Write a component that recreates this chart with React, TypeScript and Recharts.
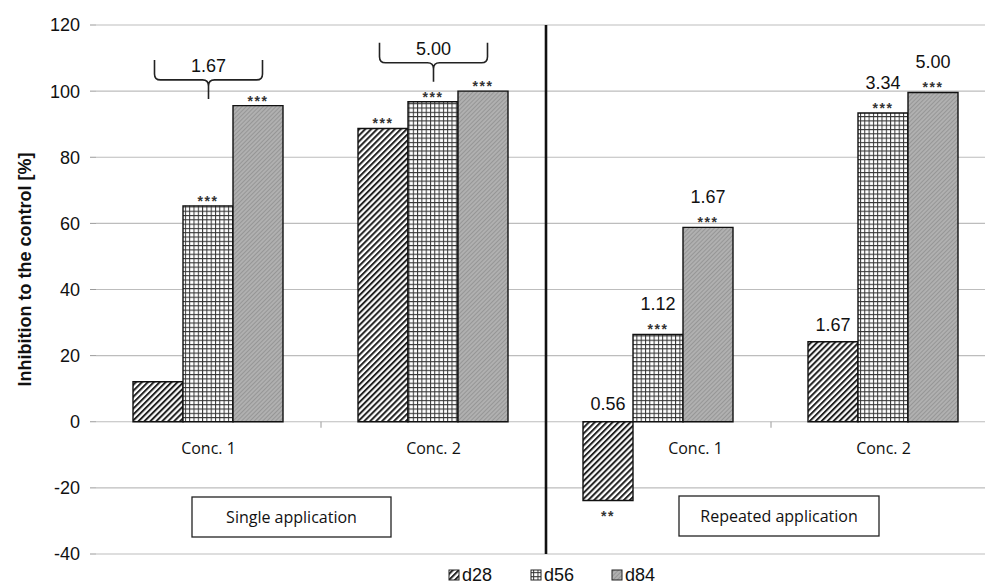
import React from "react";
import {
  ComposedChart,
  Bar,
  Line,
  XAxis,
  YAxis,
  CartesianGrid,
  LabelList,
} from "recharts";

// categories and values
const categories = ["Conc. 1", "Conc. 2", "Conc. 1 ", "Conc. 2 "];
const d28 = [12.1, 88.7, -23.8, 24.2];
const d56 = [65.3, 96.8, 26.4, 93.4];
const d84 = [95.6, 100, 58.8, 99.6];

// significance stars and ratios above bars
const stars28 = ["", "***", "**", ""];
const stars56 = ["***", "***", "***", "***"];
const stars84 = ["***", "***", "***", "***"];
const ratio28 = ["", "", "0.56", "1.67"];
const ratio56 = ["", "", "1.12", "3.34"];
const ratio84 = ["", "", "1.67", "5.00"];

// braces over the single application groups
const braceLevel = [103.4, 108.6, null, null];
const braceText = ["1.67", "5.00", "", ""];

const yTicks = [-40, -20, 0, 20, 40, 60, 80, 100, 120];

const data = categories.map((name, i) => ({
  name,
  d28: d28[i],
  d56: d56[i],
  d84: d84[i],
  base: 0,
  brace: braceLevel[i],
}));

const W = 1000;
const H = 584;
const M = { top: 25, right: 4, bottom: 30, left: 0 };
const Y_W = 96;
const PLOT_L = M.left + Y_W;
const PLOT_R = W - M.right;
const PLOT_T = M.top;
const PLOT_B = H - M.bottom;
const CAT_W = (PLOT_R - PLOT_L) / categories.length;
const ZERO_Y = PLOT_T + ((120 - 0) / 160) * (PLOT_B - PLOT_T);

const ARIAL = "'Liberation Sans', Arial, sans-serif";
const CALIBRI = "'Open Sans', 'Noto Sans', sans-serif";

// the repeated Conc. 1 label is nudged right of the negative bar
const catLabelShift = [0, 0, 37, 0];

const makeBarLabel = (stars: string[], ratios: string[]) => (props: any) => {
  const { x, y, width, height, index, value } = props;
  if (x == null || y == null) return null;
  const top = Math.min(y, y + height);
  const bottom = Math.max(y, y + height);
  const cx = x + width / 2;
  const s = stars[index];
  const r = ratios[index];
  const neg = Number(value) < 0;
  return (
    <g>
      {s && (
        <text
          x={cx}
          y={neg ? bottom + 21 : top}
          textAnchor="middle"
          fontSize={14}
          fontWeight="bold"
          fontFamily={ARIAL}
          letterSpacing={1.5}
          fill="#333"
        >
          {s}
        </text>
      )}
      {r && (
        <text
          x={cx}
          y={neg ? top - 12 : s ? top - 24 : top - 11}
          textAnchor="middle"
          fontSize={18}
          fontFamily={ARIAL}
          fill="#111"
        >
          {r}
        </text>
      )}
    </g>
  );
};

const CatLabel = (props: any) => {
  const { x, y, value, index } = props;
  if (x == null || y == null) return null;
  return (
    <text
      x={x + (catLabelShift[index] ?? 0)}
      y={y + 32}
      textAnchor="middle"
      fontSize={16}
      fontFamily={CALIBRI}
      fill="#111"
    >
      {String(value).trim()}
    </text>
  );
};

const Brace = (props: any) => {
  const { x, y, index } = props;
  if (x == null || y == null || Number.isNaN(y) || braceLevel[index] == null) return null;
  const w = 54;
  const up = 20;
  const dn = 19;
  const r = 6;
  const d = [
    `M${x - w},${y - up} L${x - w},${y - r} Q${x - w},${y} ${x - w + r},${y}`,
    `L${x - r},${y} Q${x},${y} ${x},${y + r} L${x},${y + dn}`,
    `M${x},${y + r} Q${x},${y} ${x + r},${y} L${x + w - r},${y}`,
    `Q${x + w},${y} ${x + w},${y - r} L${x + w},${y - up}`,
  ].join(" ");
  return (
    <g>
      <path d={d} fill="none" stroke="#222" strokeWidth={1.6} />
      <text
        x={x}
        y={y - 8}
        textAnchor="middle"
        fontSize={18}
        fontFamily={ARIAL}
        fill="#111"
      >
        {braceText[index]}
      </text>
    </g>
  );
};

const legendItems = [
  { key: "d28", fill: "url(#hatch28)", x: 449 },
  { key: "d56", fill: "url(#grid56)", x: 531 },
  { key: "d84", fill: "url(#dots84)", x: 612 },
];

export default function App() {
  return (
    <div
      style={{
        position: "absolute",
        left: 0,
        top: 0,
        width: 985,
        height: 584,
        overflow: "hidden",
        background: "#fff",
      }}
    >
      <ComposedChart
        width={W}
        height={H}
        data={data}
        margin={M}
        barCategoryGap={37}
        barGap={0}
      >
        <defs>
          <pattern
            id="hatch28"
            width={4.2}
            height={4.2}
            patternUnits="userSpaceOnUse"
            patternTransform="rotate(45)"
          >
            <rect width={4.2} height={4.2} fill="#fff" />
            <line x1={1} y1={0} x2={1} y2={4.2} stroke="#222" strokeWidth={2} />
          </pattern>
          <pattern id="grid56" width={4.3} height={4.3} patternUnits="userSpaceOnUse">
            <rect width={4.3} height={4.3} fill="#fff" />
            <path d="M0,0.5 H4.3 M0.5,0 V4.3" stroke="#333" strokeWidth={1} fill="none" />
          </pattern>
          <pattern
            id="dots84"
            width={3}
            height={3}
            patternUnits="userSpaceOnUse"
            patternTransform="rotate(45)"
          >
            <rect width={3} height={3} fill="#b0b0b0" />
            <line x1={0.5} y1={0} x2={0.5} y2={3} stroke="#969696" strokeWidth={1} />
          </pattern>
        </defs>
        <CartesianGrid vertical={false} stroke="#bdbdbd" strokeWidth={1.2} />
        <XAxis dataKey="name" hide />
        <YAxis
          width={Y_W}
          domain={[-40, 120]}
          ticks={yTicks}
          interval={0}
          allowDataOverflow
          axisLine={false}
          tickLine={{ stroke: "#9a9a9a" }}
          tickSize={6}
          tickMargin={10}
          tick={{ fill: "#111", fontSize: 18, fontFamily: ARIAL }}
        />
        <Bar
          dataKey="d28"
          fill="url(#hatch28)"
          stroke="#111"
          strokeWidth={1.4}
          isAnimationActive={false}
        >
          <LabelList dataKey="d28" content={makeBarLabel(stars28, ratio28)} />
        </Bar>
        <Bar
          dataKey="d56"
          fill="url(#grid56)"
          stroke="#111"
          strokeWidth={1.4}
          isAnimationActive={false}
        >
          <LabelList dataKey="d56" content={makeBarLabel(stars56, ratio56)} />
        </Bar>
        <Bar
          dataKey="d84"
          fill="url(#dots84)"
          stroke="#111"
          strokeWidth={1.4}
          isAnimationActive={false}
        >
          <LabelList dataKey="d84" content={makeBarLabel(stars84, ratio84)} />
        </Bar>
        <Line
          dataKey="base"
          stroke="none"
          dot={false}
          activeDot={false}
          legendType="none"
          isAnimationActive={false}
        >
          <LabelList dataKey="name" content={CatLabel} />
        </Line>
        <Line
          dataKey="brace"
          stroke="none"
          dot={false}
          activeDot={false}
          legendType="none"
          connectNulls={false}
          isAnimationActive={false}
        >
          <LabelList dataKey="brace" content={Brace} />
        </Line>
      </ComposedChart>

      {/* annotations: axis title, divider, boxes, legend */}
      <svg
        width={985}
        height={584}
        style={{ position: "absolute", left: 0, top: 0, pointerEvents: "none" }}
      >
        <text
          transform={`translate(31, ${(PLOT_T + PLOT_B) / 2 - 20}) rotate(-90)`}
          textAnchor="middle"
          fontSize={18}
          fontWeight="bold"
          fontFamily={ARIAL}
          fill="#111"
        >
          Inhibition to the control [%]
        </text>
        {[1, 3].map((k) => (
          <line
            key={k}
            x1={PLOT_L + CAT_W * k}
            x2={PLOT_L + CAT_W * k}
            y1={ZERO_Y}
            y2={ZERO_Y + 6}
            stroke="#9a9a9a"
          />
        ))}
        <line
          x1={PLOT_L + CAT_W * 2}
          x2={PLOT_L + CAT_W * 2}
          y1={PLOT_T}
          y2={PLOT_B}
          stroke="#111"
          strokeWidth={2.6}
        />
        <rect x={192} y={497} width={199} height={40} fill="#fff" stroke="#222" strokeWidth={1.3} />
        <text x={291.5} y={523} textAnchor="middle" fontSize={16} fontFamily={CALIBRI} fill="#111">
          Single application
        </text>
        <rect x={679} y={496} width={200} height={40} fill="#fff" stroke="#222" strokeWidth={1.3} />
        <text x={779} y={522} textAnchor="middle" fontSize={16} fontFamily={CALIBRI} fill="#111">
          Repeated application
        </text>
        {legendItems.map((it) => (
          <g key={it.key}>
            <rect x={it.x} y={570} width={10} height={10} fill={it.fill} stroke="#222" strokeWidth={1} />
            <text x={it.x + 13} y={581} fontSize={18} fontFamily={ARIAL} fill="#111">
              {it.key}
            </text>
          </g>
        ))}
      </svg>
    </div>
  );
}
